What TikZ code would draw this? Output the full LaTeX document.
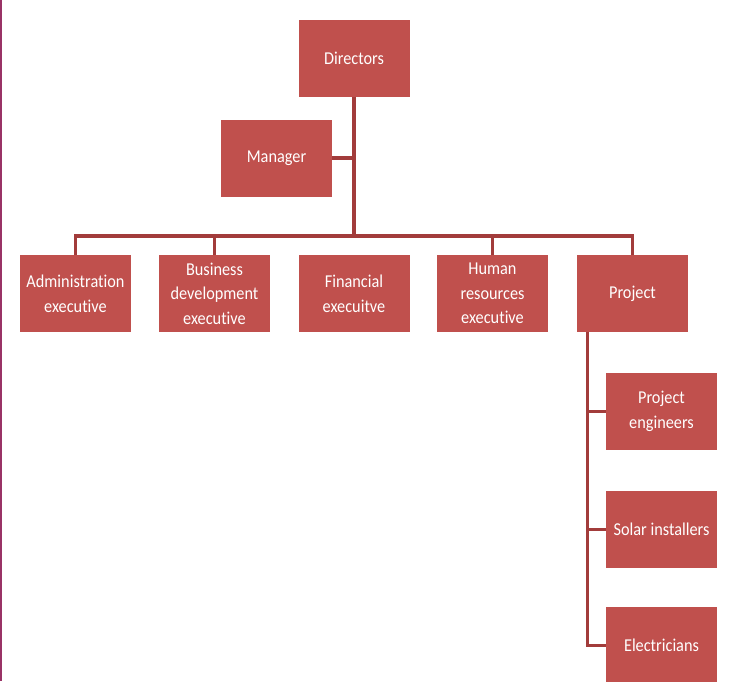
\documentclass[tikz,border=0pt]{standalone}
\usepackage{fontspec}
\setmainfont[FakeStretch=0.9, Ligatures=NoCommon, Contextuals=NoAlternate]{Carlito}
\usepackage{tikz}
\usetikzlibrary{positioning,calc}
\definecolor{boxred}{HTML}{C0504D}
\definecolor{linkred}{HTML}{A23C3B}
\definecolor{edgeplum}{HTML}{993366}

\begin{document}
\begin{tikzpicture}[post/.style={rectangle, fill=boxred, text=white, minimum width=2.22cm, minimum height=1.54cm, inner sep=1pt, align=center, font=\fontsize{10.3}{14}\selectfont}, link/.style={draw=linkred, line width=1.8pt}]
				\useasboundingbox (0,0) rectangle (14.62,-13.62);
				\draw[edgeplum, line width=0.05cm] (0.025,0) -- (0.025,-13.62);

				% Nodes

				\node [post] (dir) at (7.08,-1.16) {Directors};
				\node [post] (man) at (5.53,-3.16) {Manager};
				\node [post] (adm) at (1.51,-5.87) {Administration\\executive};
				\node [post] (bus) at (4.29,-5.87) {Business\\development\\executive};
				\node [post] (fin) at (7.08,-5.87) {Financial\\execuitve};
				\node [post] (hum) at (9.85,-5.87) {Human\\resources\\executive};
				\node [post] (prj) at (12.65,-5.87) {Project};
				\node [post] (eng) at (13.23,-8.23) {Project\\engineers};
				\node [post] (sol) at (13.23,-10.59) {Solar installers};
				\node [post] (ele) at (13.23,-12.91) {Electricians};
				\coordinate (bar) at (7.08,-4.72);
				\coordinate (ptop) at ($ (prj.south west) +(0.22,0) $);

				% Arrows

				\draw[link] (dir.south) -- (bar);
				\draw[link] (man.east) -- (man.east -| bar);
				\draw[link] (adm.north) |- (bar) -| (prj.north);
				\draw[link] (bus.north) -- (bus.north |- bar);\draw[link] (hum.north) -- (hum.north |- bar);
				\draw[link] (ptop) |- (ele.west);
				\draw[link] (ptop |- eng.west) -- (eng.west);
				\draw[link] (ptop |- sol.west) -- (sol.west);
			\end{tikzpicture}
\end{document}
